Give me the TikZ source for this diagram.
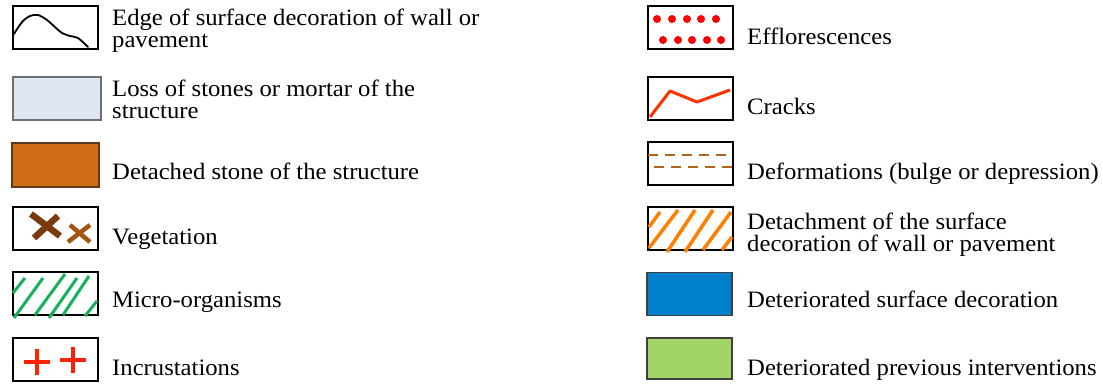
\documentclass[tikz,border=0pt]{standalone}
\usepackage{fontspec}
\setmainfont{Liberation Serif}[FakeStretch=1.05]
\definecolor{lossfill}{HTML}{DFE6F3}
\definecolor{lossedge}{HTML}{707070}
\definecolor{stonefill}{HTML}{D06B17}
\definecolor{stoneedge}{HTML}{5C3A1E}
\definecolor{vegdark}{HTML}{7B3A0E}
\definecolor{veglight}{HTML}{A3540F}
\definecolor{microgreen}{HTML}{14B35A}
\definecolor{incred}{HTML}{FF2200}
\definecolor{efflored}{HTML}{FF0000}
\definecolor{crackred}{HTML}{FF3300}
\definecolor{deformbrown}{HTML}{B5641E}
\definecolor{detachorange}{HTML}{FF8000}
\definecolor{surfblue}{HTML}{0080CC}
\definecolor{prevgreen}{HTML}{A3D466}
\tikzset{
  legendbox/.style={draw=black, line width=2pt, minimum width=85pt, minimum height=43pt, inner sep=0pt},
  legendtext/.style={anchor=base west, inner sep=0pt, align=left, font=\fontsize{23.5}{22}\selectfont},
}
\begin{document}
\begin{tikzpicture}[x=1pt,y=-1pt]
\useasboundingbox (0,0) rectangle (1103,387);

% left column
\node[legendbox] (edgebox) at (55.5,27.5) {};
\draw[line width=1.8pt, line cap=round] plot[smooth] coordinates {(14,34) (22,22) (30,16) (38,15) (47,20) (56,28) (62,33) (70,36) (78,38) (88,47)};
\node[legendtext] (edge) at (112,48) {Edge of surface decoration of wall or\\pavement};

\node[legendbox, fill=lossfill, draw=lossedge, line width=1.5pt, minimum width=88pt] (lossbox) at (57,98.5) {};
\node[legendtext] (loss) at (112,119) {Loss of stones or mortar of the\\structure};

\node[legendbox, fill=stonefill, draw=stoneedge, line width=1.5pt, minimum width=87pt, minimum height=44pt] (stonebox) at (55.5,165) {};
\node[legendtext] (stone) at (112,180) {Detached stone of the structure};

\node[legendbox] (vegbox) at (55.5,229) {};
\draw[vegdark, line width=6.5pt] (31,214) -- (60,236);
\draw[vegdark, line width=6.5pt] (58,216) -- (34,238);
\draw[veglight, line width=4.5pt] (70,225) -- (90,242);
\draw[veglight, line width=4.5pt] (90,225) -- (68,242);
\node[legendtext] (veg) at (112,245) {Vegetation};

\node[legendbox] (microbox) at (55.5,294) {};
\foreach \xa/\ya/\xb/\yb in {13/293/25/278, 14/318/43/278, 35/315/65/274, 49/318/77/278, 63/315/89/276, 85/316/97/301}
  \draw[microgreen, line width=3pt] (\xa,\ya) -- (\xb,\yb);
\node[legendtext] (micro) at (112,308) {Micro-organisms};

\node[legendbox] (incrbox) at (55.5,359.5) {};
\foreach \cx/\cy in {37/362, 73/360}
  \draw[incred, line width=3.5pt] (\cx-13,\cy) -- (\cx+13,\cy) (\cx,\cy-13) -- (\cx,\cy+13);
\node[legendtext] (incr) at (112,375) {Incrustations};

% right column
\node[legendbox] (effbox) at (690.5,27.5) {};
\foreach \dx in {657,672,687,701,716}
  \fill[efflored] (\dx,19) circle (4);
\foreach \dx in {663,678,692,707,721}
  \fill[efflored] (\dx,40) circle (4);
\node[legendtext] (efflo) at (747,45) {Efflorescences};

\node[legendbox] (crackbox) at (690.5,99) {};
\draw[crackred, line width=3pt, line join=round] (650,117) -- (670,91) -- (697,102) -- (730,90);
\node[legendtext] (cracks) at (747,115) {Cracks};

\node[legendbox] (deformbox) at (690.5,164) {};
\draw[deformbrown, line width=2pt, dash pattern=on 10pt off 7pt] (648,155) -- (730,155);
\draw[deformbrown, line width=2pt, dash pattern=on 10pt off 7pt] (654,167) -- (732,167);
\node[legendtext] (deform) at (747,180) {Deformations (bulge or depression)};

\node[legendbox] (detachbox) at (690.5,229) {};
\foreach \xa/\ya/\xb/\yb in {649/227/660/212, 649/248/678/210, 667/252/695/210, 685/252/713/210, 703/250/731/212, 722/250/732/237}
  \draw[detachorange, line width=3.5pt] (\xa,\ya) -- (\xb,\yb);
\node[legendtext] (detach) at (747,252) {Detachment of the surface\\decoration of wall or pavement};

\node[legendbox, fill=surfblue, draw=black!75, line width=1.5pt] (surfbox) at (689.5,294) {};
\node[legendtext] (detsurf) at (747,308) {Deteriorated surface decoration};

\node[legendbox, fill=prevgreen, draw=black!75, line width=1.5pt, minimum height=41pt] (prevbox) at (689.5,358.5) {};
\node[legendtext] (detprev) at (747,375) {Deteriorated previous interventions};
\end{tikzpicture}
\end{document}
